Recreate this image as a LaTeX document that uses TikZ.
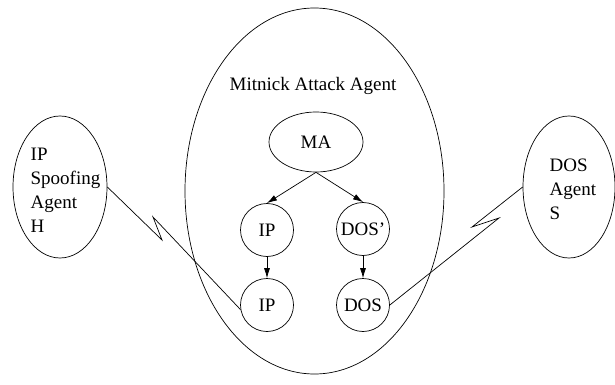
\documentclass[tikz,border=0pt]{standalone}
\usepackage{fontspec}
\setmainfont{Liberation Serif}
\usetikzlibrary{arrows.meta,shapes.geometric}
\tikzset{
  lbl/.style={font=\fontsize{19}{24}\selectfont},
  oval/.style={ellipse,draw,inner sep=0pt},
  circ/.style={circle,draw,inner sep=0pt,minimum size=53pt},
  arr/.style={-{Latex[length=10pt,width=6pt]}},
}
\begin{document}
\begin{tikzpicture}[x=1pt,y=-1pt,line width=0.7pt,lbl]
\useasboundingbox (0,0) rectangle (615,385);
\node[oval,minimum width=259pt,minimum height=366pt] (big) at (314.5,191) {};
\node (title) at (313,86) {Mitnick Attack Agent};
\node[oval,minimum width=94pt,minimum height=60pt] (ma) at (316,142) {MA};
\node[circ] (ip1) at (267,230) {IP};
\node[circ] (ip2) at (267,305) {IP};
\node[circ] (dosp) at (363,229) {DOS'};
\node[circ] (dos) at (363,305) {DOS};
\node[oval,minimum width=94pt,minimum height=142pt,align=left] (lh) at (60,187) {};
\node[align=left,anchor=west] (lht) at (27,190) {IP\\Spoofing\\Agent\\H};
\node[oval,minimum width=92pt,minimum height=142pt] (rs) at (569,187) {};
\node[align=left,anchor=west] (rst) at (546,189) {DOS\\Agent\\S};
\draw[arr] (ma.south) -- (ip1.north);
\draw[arr] (ma.south) -- (dosp.north);
\draw[arr] (ip1) -- (ip2);
\draw[arr] (dosp) -- (dos);
\coordinate (l1) at (162,240);
\coordinate (l2) at (153,217);
\coordinate (r1) at (472,227);
\coordinate (r2) at (499,218);
\draw (lh.east) -- (l1) -- (l2) -- (ip2.190);
\draw (rs.west) -- (r1) -- (r2) -- (dos.east);
\end{tikzpicture}
\end{document}
